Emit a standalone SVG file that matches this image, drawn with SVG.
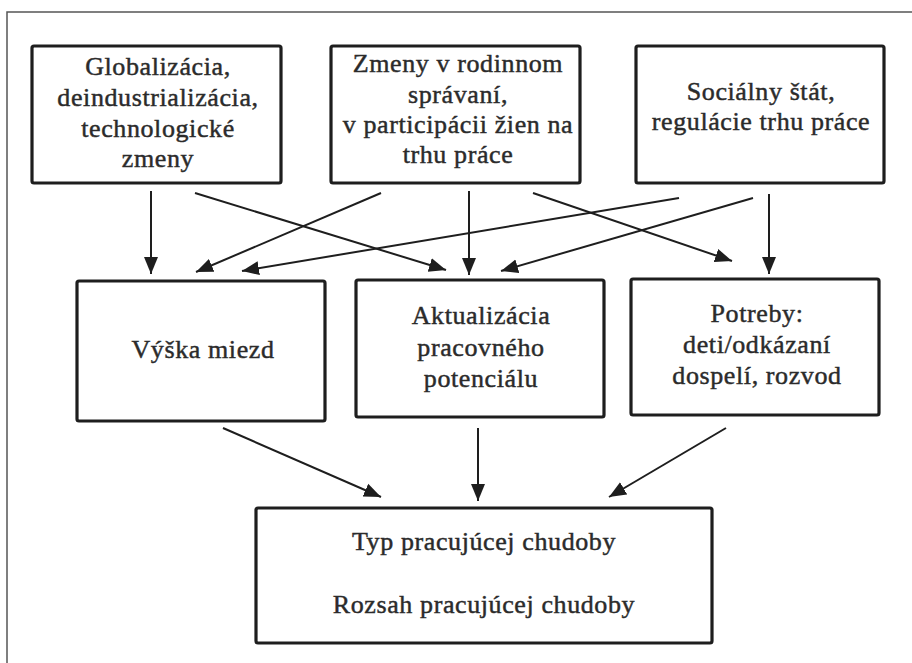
<svg xmlns="http://www.w3.org/2000/svg" width="912" height="663" viewBox="0 0 912 663">
<defs>
<style>
.box{fill:#fff;stroke:#1e1e1e;stroke-width:3.2}
.t{font-family:"Liberation Serif","Times New Roman",serif;font-size:26px;letter-spacing:0.6px;fill:#2b2b2b;stroke:#2b2b2b;stroke-width:0.45;text-anchor:middle}
.c{stroke:#1e1e1e;stroke-width:2;fill:none;marker-end:url(#ah)}
</style>
<marker id="ah" markerUnits="userSpaceOnUse" markerWidth="18" markerHeight="16" viewBox="0 0 18 16" refX="17" refY="8" orient="auto">
<path d="M0,1 L17,8 L0,15 z" fill="#1e1e1e"/>
</marker>
</defs>
<rect width="912" height="663" fill="#fff"/>
<path d="M7,663 V12 H912" fill="none" stroke="#555" stroke-width="1.5"/>
<g id="n1">
<rect class="box" x="32" y="46" width="249" height="137" rx="2"/>
<text class="t" x="158" y="75">Globalizácia,</text>
<text class="t" x="158" y="106">deindustrializácia,</text>
<text class="t" x="158" y="137">technologické</text>
<text class="t" x="158" y="167">zmeny</text>
</g>
<g id="n2">
<rect class="box" x="331" y="46" width="249" height="137" rx="2"/>
<text class="t" x="458" y="72">Zmeny v rodinnom</text>
<text class="t" x="458" y="103">správaní,</text>
<text class="t" x="458" y="133">v participácii žien na</text>
<text class="t" x="458" y="163">trhu práce</text>
</g>
<g id="n3">
<rect class="box" x="636" y="46" width="248" height="137" rx="2"/>
<text class="t" x="761" y="100">Sociálny štát,</text>
<text class="t" x="761" y="130">regulácie trhu práce</text>
</g>
<g id="n4">
<rect class="box" x="77" y="281" width="248" height="140" rx="2"/>
<text class="t" x="203" y="358">Výška miezd</text>
</g>
<g id="n5">
<rect class="box" x="356" y="280" width="248" height="137" rx="2"/>
<text class="t" x="481" y="324">Aktualizácia</text>
<text class="t" x="481" y="356">pracovného</text>
<text class="t" x="481" y="387">potenciálu</text>
</g>
<g id="n6">
<rect class="box" x="631" y="279" width="248" height="136" rx="2"/>
<text class="t" x="757" y="322">Potreby:</text>
<text class="t" x="757" y="353">deti/odkázaní</text>
<text class="t" x="757" y="384">dospelí, rozvod</text>
</g>
<g id="n7">
<rect class="box" x="256" y="508" width="456" height="135" rx="2"/>
<text class="t" x="484" y="550">Typ pracujúcej chudoby</text>
<text class="t" x="484" y="613">Rozsah pracujúcej chudoby</text>
</g>
<g id="connectors">
<line class="c" x1="151" y1="191" x2="151" y2="274"/>
<line class="c" x1="195" y1="193" x2="446" y2="270"/>
<line class="c" x1="381" y1="193" x2="196" y2="272"/>
<line class="c" x1="469" y1="191" x2="469" y2="275"/>
<line class="c" x1="533" y1="193" x2="732" y2="261"/>
<line class="c" x1="679" y1="198" x2="242" y2="271"/>
<line class="c" x1="753" y1="198" x2="501" y2="271"/>
<line class="c" x1="769" y1="194" x2="769" y2="274"/>
<line class="c" x1="223" y1="428" x2="381" y2="497"/>
<line class="c" x1="478" y1="428" x2="478" y2="501"/>
<line class="c" x1="726" y1="428" x2="609" y2="497"/>
</g>
</svg>
